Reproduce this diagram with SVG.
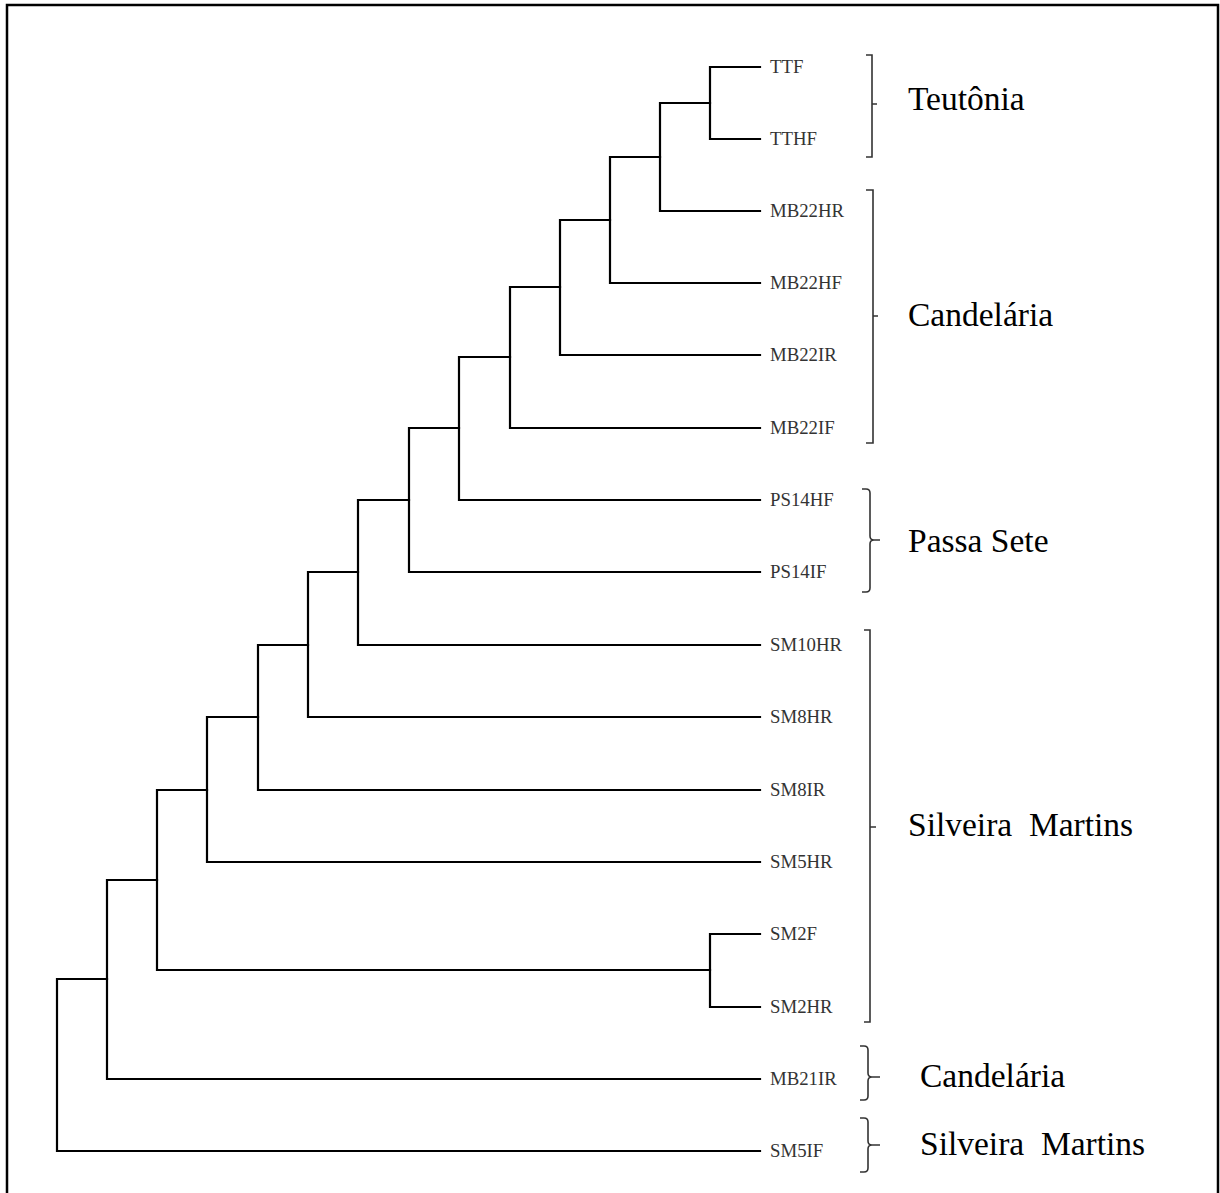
<svg xmlns="http://www.w3.org/2000/svg" width="1220" height="1193" viewBox="0 0 1220 1193">
<style>
.br{fill:none;stroke:#000;stroke-width:2.2;stroke-linecap:square}
.bk{fill:none;stroke:#333;stroke-width:1.6}
.lf{font-family:"Liberation Serif","Times New Roman",serif;font-size:18.8px;fill:#333}
.gp{font-family:"Liberation Serif","Times New Roman",serif;font-size:33.5px;fill:#000}
</style>
<rect x="0" y="0" width="1220" height="1193" fill="#fff"/>
<path d="M7,1193 V5 H1218 V1193" fill="none" stroke="#000" stroke-width="2.5"/>
<g id="connectors" class="br">
<path d="M760,67 H710 V139 H760"/>
<path d="M710,103 H660 V211 H760"/>
<path d="M660,157 H610 V283 H760"/>
<path d="M610,220 H560 V355 H760"/>
<path d="M560,287 H510 V428 H760"/>
<path d="M510,357 H459 V500 H760"/>
<path d="M459,428 H409 V572 H760"/>
<path d="M409,500 H358 V645 H760"/>
<path d="M358,572 H308 V717 H760"/>
<path d="M308,645 H258 V790 H760"/>
<path d="M258,717 H207 V862 H760"/>
<path d="M760,934 H710 V1007 H760"/>
<path d="M207,790 H157 V970 H710"/>
<path d="M157,880 H107 V1079 H760"/>
<path d="M107,979 H57 V1151 H760"/>
</g>
<g id="leaves" class="lf">
<text id="TTF" x="770" y="73">TTF</text>
<text id="TTHF" x="770" y="145">TTHF</text>
<text id="MB22HR" x="770" y="217">MB22HR</text>
<text id="MB22HF" x="770" y="289">MB22HF</text>
<text id="MB22IR" x="770" y="361">MB22IR</text>
<text id="MB22IF" x="770" y="434">MB22IF</text>
<text id="PS14HF" x="770" y="506">PS14HF</text>
<text id="PS14IF" x="770" y="578">PS14IF</text>
<text id="SM10HR" x="770" y="651">SM10HR</text>
<text id="SM8HR" x="770" y="723">SM8HR</text>
<text id="SM8IR" x="770" y="796">SM8IR</text>
<text id="SM5HR" x="770" y="868">SM5HR</text>
<text id="SM2F" x="770" y="940">SM2F</text>
<text id="SM2HR" x="770" y="1013">SM2HR</text>
<text id="MB21IR" x="770" y="1085">MB21IR</text>
<text id="SM5IF" x="770" y="1157">SM5IF</text>
</g>
<g id="group-teutonia">
<path class="bk" d="M866,55 H872 V157 H866 M872,104 H877"/>
<text class="gp" x="908" y="110">Teutônia</text>
</g>
<g id="group-candelaria">
<path class="bk" d="M866,190 H873 V443 H866 M873,316 H878"/>
<text class="gp" x="908" y="326">Candelária</text>
</g>
<g id="group-passa-sete">
<path class="bk" d="M862,489 H866 Q870,489 870,493 V536 Q870,540 874,540 H880 M874,540 Q870,540 870,544 V588 Q870,592 866,592 H862"/>
<text class="gp" x="908" y="552">Passa Sete</text>
</g>
<g id="group-silveira-martins">
<path class="bk" d="M864,630 H870 V1022 H864 M870,827 H876"/>
<text class="gp" x="908" y="836" xml:space="preserve">Silveira  Martins</text>
</g>
<g id="group-candelaria-2">
<path class="bk" d="M860,1046 H864 Q868,1046 868,1050 V1073 Q868,1077 872,1077 H880 M872,1077 Q868,1077 868,1081 V1096 Q868,1100 864,1100 H860"/>
<text class="gp" x="920" y="1087">Candelária</text>
</g>
<g id="group-silveira-martins-2">
<path class="bk" d="M860,1118 H864 Q868,1118 868,1122 V1141 Q868,1145 872,1145 H880 M872,1145 Q868,1145 868,1149 V1168 Q868,1172 864,1172 H860"/>
<text class="gp" x="920" y="1155" xml:space="preserve">Silveira  Martins</text>
</g>
</svg>
